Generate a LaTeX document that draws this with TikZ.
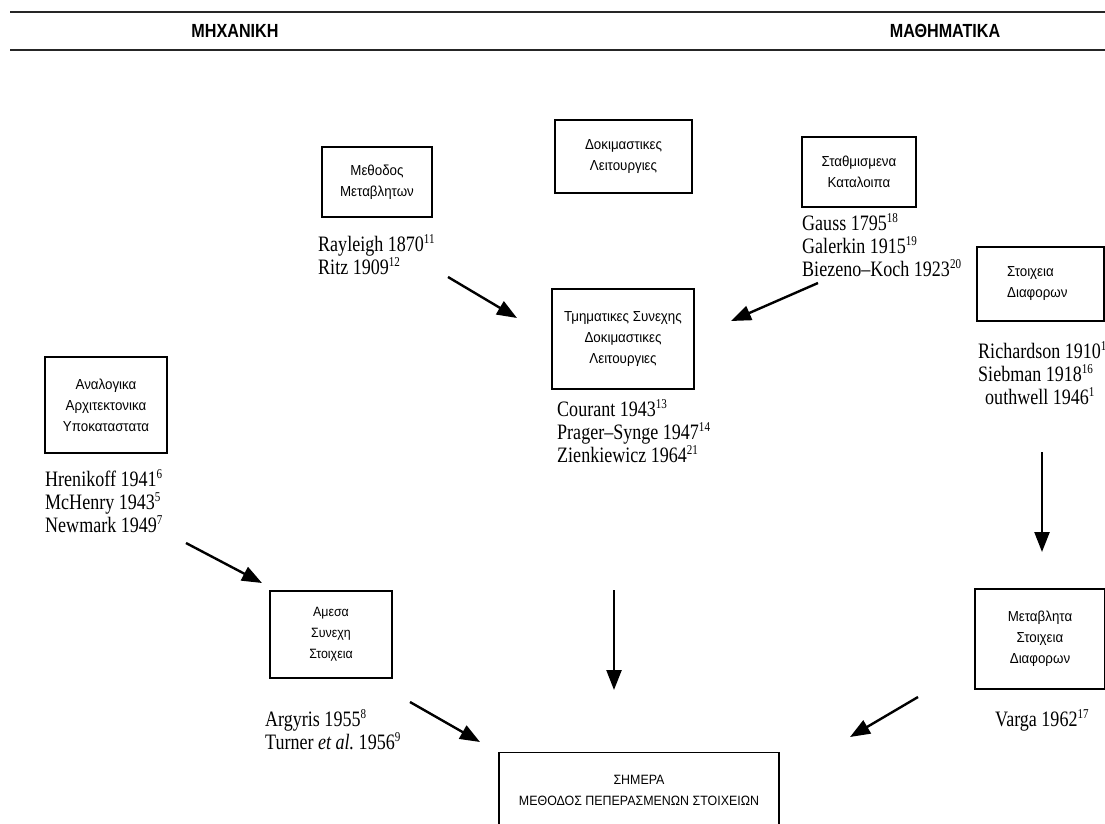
\documentclass[tikz,border=0pt]{standalone}
\usepackage{fontspec}
\usetikzlibrary{arrows.meta,positioning}
\setmainfont{Liberation Serif}
\newfontfamily\boxfont[FakeStretch=0.92]{Liberation Sans}
\newfontfamily\headfont[FakeStretch=0.85]{Liberation Sans}
\newfontfamily\namefont[FakeStretch=0.82]{Liberation Serif}
\newcommand\refnum[1]{\raisebox{0.85ex}{\fontsize{13.5}{13.5}\selectfont #1}}

\begin{document}
\begin{tikzpicture}[x=1pt,y=-1pt,
	field/.style={font={\headfont\bfseries\fontsize{19}{19}\selectfont}},
	method/.style={draw, line width=1.2pt, align=center, inner sep=0pt, font={\boxfont\fontsize{14.5}{21}\selectfont}},
	authors/.style={align=left, anchor=north west, inner sep=0pt, font={\namefont\fontsize{22}{23}\selectfont}},
	lead/.style={line width=2.4pt, -{Triangle[length=20pt,width=15pt]}}]
		
		\useasboundingbox (0,0) rectangle (1105,824);
		\clip (0,0) rectangle (1105,824);
		
		\draw [line width=2.5pt, black!85] (10,12) -- (1105,12);
		\draw [line width=2.5pt, black!85] (10,50) -- (1105,50);
		\node [field] (mech) at (235,31) {ΜΗΧΑΝΙΚΗ};
		\node [field] (math) at (945,31) {ΜΑΘΗΜΑΤΙΚΑ};
		
		\node [method, minimum width=110pt, minimum height=70pt] (metodos) at (377,182) {Μεθοδος\\Μεταβλητων};
		\node [method, minimum width=137pt, minimum height=73pt] (dokim) at (623.5,156.5) {Δοκιμαστικες\\Λειτουργιες};
		\node [method, minimum width=114pt, minimum height=70pt] (stathm) at (859,172) {Σταθμισμενα\\Καταλοιπα};
		\node [method, align=left, minimum width=127pt, minimum height=74pt] (diafores) at (1040.5,284) {Στοιχεια\hspace*{20pt}\\Διαφορων};
		\node [method, minimum width=142pt, minimum height=100pt] (tmimat) at (623,339) {Τμηματικες Συνεχης\\Δοκιμαστικες\\Λειτουργιες};
		\node [method, minimum width=122pt, minimum height=96pt] (analog) at (106,405) {Αναλογικα\\Αρχιτεκτονικα\\Υποκαταστατα};
		\node [method, minimum width=122pt, minimum height=87pt, font={\boxfont\fontsize{13.5}{21}\selectfont}] (amesa) at (331,634.5) {Αμεσα\\Συνεχη\\Στοιχεια};
		\node [method, minimum width=130pt, minimum height=100pt] (metavl) at (1040,639) {Μεταβλητα\\Στοιχεια\\Διαφορων};
		\node [method, anchor=north, minimum width=280pt, minimum height=76pt, font={\boxfont\fontsize{13.5}{21}\selectfont}] (simera) at (639,752) {ΣΗΜΕΡΑ\\ΜΕΘΟΔΟΣ ΠΕΠΕΡΑΣΜΕΝΩΝ ΣΤΟΙΧΕΙΩΝ};
		
		\node [authors] (rayleigh) at (318,234) {Rayleigh 1870\refnum{11}\\Ritz 1909\refnum{12}};
		\node [authors] (gauss) at (802,213) {Gauss 1795\refnum{18}\\Galerkin 1915\refnum{19}\\Biezeno–Koch 1923\refnum{20}};
		\node [authors] (richardson) at (978,341) {Richardson 1910\refnum{1}\\Siebman 1918\refnum{16}\\\hspace*{7pt}outhwell 1946\refnum{1}};
		\node [authors] (courant) at (557,399) {Courant 1943\refnum{13}\\Prager–Synge 1947\refnum{14}\\Zienkiewicz 1964\refnum{21}};
		\node [authors] (hrenikoff) at (45,469) {Hrenikoff 1941\refnum{6}\\McHenry 1943\refnum{5}\\Newmark 1949\refnum{7}};
		\node [authors] (argyris) at (265,709) {Argyris 1955\refnum{8}\\Turner \textit{et al.}\ 1956\refnum{9}};
		\node [authors] (varga) at (995,709) {Varga 1962\refnum{17}};
		
		\coordinate (rayleigh-out) at (448,277);
		\coordinate (tmimat-inl) at (517,318);
		\coordinate (gauss-out) at (818,283);
		\coordinate (tmimat-inr) at (731,321);
		\coordinate (richardson-out) at (1042,452);
		\coordinate (metavl-in) at (1042,552);
		\coordinate (hrenikoff-out) at (186,543);
		\coordinate (amesa-in) at (262,583);
		\coordinate (courant-out) at (614,590);
		\coordinate (simera-top) at (614,690);
		\coordinate (argyris-out) at (410,702);
		\coordinate (simera-left) at (480,742);
		\coordinate (varga-out) at (918,697);
		\coordinate (simera-right) at (850,737);
		
		\draw [lead] (rayleigh-out) -- (tmimat-inl);
		\draw [lead] (gauss-out) -- (tmimat-inr);
		\draw [lead] (richardson-out) -- (metavl-in);
		\draw [lead] (hrenikoff-out) -- (amesa-in);
		\draw [lead] (courant-out) -- (simera-top);
		\draw [lead] (argyris-out) -- (simera-left);
		\draw [lead] (varga-out) -- (simera-right);
		
	\end{tikzpicture}
\end{document}
